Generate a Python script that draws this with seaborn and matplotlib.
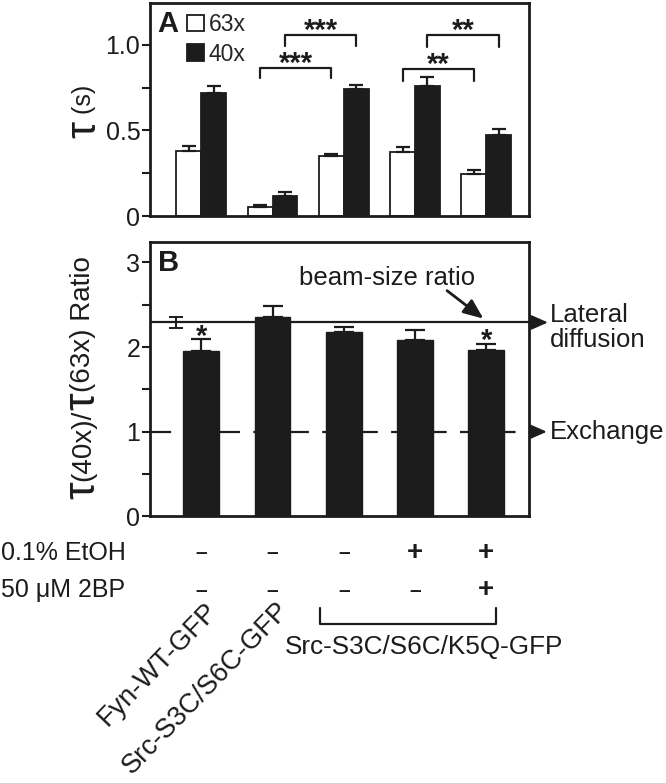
import numpy as np
import pandas as pd
import seaborn as sns
import matplotlib.pyplot as plt
from matplotlib.ticker import FixedLocator

# data
constructs = ['Fyn', 'S3C/S6C', 'K5Q', 'K5Q EtOH', 'K5Q EtOH 2BP']
objectives = ['63x', '40x']
tau_63x = [0.38, 0.055, 0.35, 0.375, 0.245]
tau_63x_err = [0.03, 0.01, 0.015, 0.03, 0.025]
tau_40x = [0.72, 0.12, 0.74, 0.76, 0.475]
tau_40x_err = [0.04, 0.02, 0.025, 0.05, 0.035]

ratio = [1.95, 2.36, 2.18, 2.08, 1.97]
ratio_err = [0.14, 0.12, 0.06, 0.12, 0.07]
ratio_star = ['*', '', '', '', '*']
beam_ratio = 2.29
beam_ratio_err = 0.065
exchange_ratio = 1.0

etoh = ['-', '-', '-', '+', '+']
bp2 = ['-', '-', '-', '-', '+']

# (group, objective) -> (group, objective), bracket top, leg bottom, label
sig_pairs = [
    (1, '63x', 2, '63x', 0.865, 0.807, '***'),
    (1, '40x', 2, '40x', 1.058, 0.994, '***'),
    (3, '63x', 4, '63x', 0.86, 0.79, '**'),
    (3, '40x', 4, '40x', 1.06, 0.99, '**'),
]

df_a = pd.DataFrame({
    'construct': constructs * 2,
    'objective': ['63x'] * 5 + ['40x'] * 5,
    'tau': tau_63x + tau_40x,
    'err': tau_63x_err + tau_40x_err,
})
df_b = pd.DataFrame({'construct': constructs, 'ratio': ratio, 'err': ratio_err})

sns.set_theme(style='ticks')
plt.rcParams['font.family'] = ['Liberation Sans', 'DejaVu Sans']
ink = '#1c1c1c'

fig = plt.figure(figsize=(6.66, 7.83), dpi=100)
ax_a = fig.add_axes([0.2252, 0.7241, 0.5691, 0.2720])
ax_b = fig.add_axes([0.2252, 0.3404, 0.5691, 0.3506])

# ---- panel A
sns.barplot(data=df_a, x='construct', y='tau', hue='objective', hue_order=objectives,
            palette={'63x': 'white', '40x': ink}, saturation=1, width=0.7,
            edgecolor=ink, linewidth=1.3, errorbar=None, ax=ax_a)
err_lookup = {'63x': tau_63x_err, '40x': tau_40x_err}
bar_pos = {}
for obj, cont in zip(objectives, ax_a.containers):
    for i, bar in enumerate(cont):
        xc = bar.get_x() + bar.get_width() / 2
        h = bar.get_height()
        bar_pos[(i, obj)] = xc
        ax_a.errorbar(xc, h, yerr=[[0], [err_lookup[obj][i]]], color=ink,
                      elinewidth=1.6, capsize=5, capthick=1.6, zorder=1)

for g1, o1, g2, o2, top, leg, lab in sig_pairs:
    x1, x2 = bar_pos[(g1, o1)], bar_pos[(g2, o2)]
    ax_a.plot([x1, x1, x2, x2], [leg, top, top, leg], color=ink, lw=1.6)
    ax_a.annotate(lab, xy=((x1 + x2) / 2, top), xytext=(0, -3), textcoords='offset points',
                  ha='center', va='baseline', fontsize=21, fontweight='bold', color=ink)

ax_a.set_xlim(-0.72, 4.6)
ax_a.set_ylim(0, 1.245)
ax_a.yaxis.set_major_locator(FixedLocator([0, 0.25, 0.5, 0.75, 1.0]))
ax_a.set_yticklabels(['0', '', '0.5', '', '1.0'])
ax_a.set_xticks([])
ax_a.set_xlabel('')
ax_a.set_ylabel('')
leg = ax_a.legend(loc='upper left', bbox_to_anchor=(0.085, 0.975), frameon=False,
                  fontsize=16.5, handlelength=0.75, handleheight=0.75, handletextpad=0.2,
                  labelspacing=0.3, borderaxespad=0, borderpad=0.2)
ax_a.text(0.018, 0.969, 'A', transform=ax_a.transAxes, ha='left', va='top',
          fontsize=21, fontweight='bold', color=ink)

# ---- panel B
sns.barplot(data=df_b, x='construct', y='ratio', color=ink, saturation=1, width=0.5,
            edgecolor=ink, linewidth=1.0, errorbar=None, ax=ax_b)
for i, bar in enumerate(ax_b.containers[0]):
    xc = bar.get_x() + bar.get_width() / 2
    h = bar.get_height()
    ax_b.errorbar(xc, h, yerr=[[0], [ratio_err[i]]], color=ink,
                  elinewidth=1.6, capsize=7, capthick=1.6, zorder=1)
    if ratio_star[i]:
        ax_b.annotate(ratio_star[i], xy=(xc, h + ratio_err[i]), xytext=(0, -4),
                      textcoords='offset points', ha='center', va='baseline',
                      fontsize=21, fontweight='bold', color=ink)

ax_b.axhline(beam_ratio, color=ink, lw=1.6)
ax_b.errorbar(-0.35, beam_ratio, yerr=beam_ratio_err, color=ink, elinewidth=1.4,
              capsize=5, capthick=1.4)
ax_b.axhline(exchange_ratio, color=ink, lw=1.6, linestyle=(0, (9.5, 6)), zorder=0.5)

ytr = ax_b.get_yaxis_transform()
arrow_kw = dict(arrowstyle='-|>,head_length=0.5,head_width=0.22', color=ink, lw=1.6,
                shrinkA=0, shrinkB=0, mutation_scale=20)
ax_b.annotate('', xy=(1.05, beam_ratio), xycoords=ytr, xytext=(1.0, beam_ratio),
              textcoords=ytr, arrowprops=arrow_kw, annotation_clip=False)
ax_b.annotate('', xy=(1.047, exchange_ratio), xycoords=ytr, xytext=(1.011, exchange_ratio),
              textcoords=ytr, arrowprops=arrow_kw, annotation_clip=False)
ax_b.text(1.055, beam_ratio - 0.06, 'Lateral\ndiffusion', transform=ytr, ha='left',
          va='center', fontsize=18.5, color=ink, linespacing=1.1)
ax_b.text(1.055, exchange_ratio, 'Exchange', transform=ytr, ha='left', va='center',
          fontsize=18.5, color=ink)
ax_b.text(2.61, 2.82, 'beam-size ratio', ha='center', va='center', fontsize=18.5, color=ink)
ax_b.annotate('', xy=(3.96, 2.335), xytext=(3.45, 2.665),
              arrowprops=dict(arrowstyle='-|>,head_length=0.6,head_width=0.25', color=ink,
                              lw=2, shrinkA=0, shrinkB=0, mutation_scale=20))
ax_b.text(0.021, 0.973, 'B', transform=ax_b.transAxes, ha='left', va='top',
          fontsize=21, fontweight='bold', color=ink)

ax_b.set_xlim(-0.72, 4.6)
ax_b.set_ylim(0, 3.24)
ax_b.yaxis.set_major_locator(FixedLocator([0, 0.5, 1, 1.5, 2, 2.5, 3]))
ax_b.set_yticklabels(['0', '', '1', '', '2', '', '3'])
ax_b.set_xticks([])
ax_b.set_xlabel('')
ax_b.set_ylabel('')

for ax in (ax_a, ax_b):
    for s in ax.spines.values():
        s.set_visible(True)
        s.set_linewidth(2)
        s.set_color(ink)
    ax.tick_params(axis='y', direction='out', length=6, width=1.5, pad=1,
                   labelsize=18, colors=ink)

# ---- treatment table under panel B
xtr = ax_b.get_xaxis_transform()
fig.text(0.002, 1 - 553 / 783, '0.1% EtOH', ha='left', va='center', fontsize=18, color=ink)
fig.text(0.002, 1 - 590 / 783, '50 μM 2BP', ha='left', va='center', fontsize=18, color=ink)
for i, (e, b) in enumerate(zip(etoh, bp2)):
    for sign, yy in ((e, -0.133), (b, -0.268)):
        ax_b.text(i, yy, '–' if sign == '-' else '+', transform=xtr, ha='center',
                  va='center', fontsize=20 if sign == '+' else 15,
                  fontweight='bold', color=ink)

ax_b.plot([2 - 0.33, 2 - 0.33, 4 + 0.13, 4 + 0.13], [-0.333, -0.392, -0.392, -0.333],
          transform=xtr, color=ink, lw=1.6, clip_on=False)
ax_b.text(3.13, -0.475, 'Src-S3C/S6C/K5Q-GFP', transform=xtr, ha='center', va='center',
          fontsize=18.8, color=ink)
for i, name in enumerate(['Fyn-WT-GFP', 'Src-S3C/S6C-GFP']):
    ax_b.text(i + 0.04, -0.295, name, transform=xtr, rotation=46, rotation_mode='anchor',
              ha='right', va='top', fontsize=19.5, color=ink)


# ---- y labels with a bigger tau
def stacked_label(x, y, pieces):
    prev = fig.text(x, y, pieces[0][0], fontsize=pieces[0][1], rotation=90,
                    ha='center', va='bottom', color=ink)
    for txt, size in pieces[1:]:
        prev = ax_a.annotate(txt, xy=(0.5, 1), xycoords=prev, rotation=90, ha='center',
                             va='bottom', fontsize=size, color=ink, annotation_clip=False)


stacked_label(84 / 666, 1 - 138 / 783, [('τ', 31), (' (s)', 18)])
stacked_label(83 / 666, 1 - 499 / 783, [('τ', 32), ('(40x)/', 20), ('τ', 32), ('(63x) Ratio', 20)])

fig.savefig('out.png', dpi=100)
